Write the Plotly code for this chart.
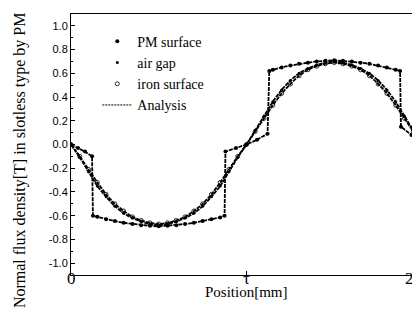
import plotly.graph_objects as go

# Positions in units of tau
pos_smooth = [0.00, 0.05, 0.10, 0.15, 0.20, 0.25, 0.30, 0.35, 0.40, 0.45, 0.50,
              0.55, 0.60, 0.65, 0.70, 0.75, 0.80, 0.85, 0.90, 0.95, 1.00,
              1.05, 1.10, 1.15, 1.20, 1.25, 1.30, 1.35, 1.40, 1.45, 1.50,
              1.55, 1.60, 1.65, 1.70, 1.75, 1.80, 1.85, 1.90, 1.95, 2.00]
air_gap = [0.00, -0.11, -0.23, -0.35, -0.44, -0.52, -0.58, -0.62, -0.65, -0.67, -0.68,
           -0.67, -0.65, -0.62, -0.58, -0.52, -0.44, -0.35, -0.23, -0.11, 0.00,
           0.12, 0.24, 0.36, 0.46, 0.54, 0.60, 0.64, 0.67, 0.69, 0.70,
           0.69, 0.67, 0.64, 0.60, 0.54, 0.46, 0.36, 0.24, 0.12, 0.00]
iron_surface = [0.00, -0.10, -0.21, -0.32, -0.42, -0.50, -0.56, -0.61, -0.64, -0.66, -0.67,
                -0.66, -0.64, -0.61, -0.56, -0.50, -0.42, -0.32, -0.21, -0.10, 0.00,
                0.11, 0.22, 0.33, 0.43, 0.51, 0.58, 0.63, 0.66, 0.68, 0.69,
                0.68, 0.66, 0.63, 0.58, 0.51, 0.43, 0.33, 0.22, 0.11, 0.00]

pos_pm = [0.00, 0.04, 0.08, 0.12, 0.125, 0.15, 0.20, 0.25, 0.30, 0.35, 0.40, 0.45, 0.50,
          0.55, 0.60, 0.65, 0.70, 0.75, 0.80, 0.85, 0.875, 0.88, 0.94, 1.00,
          1.06, 1.12, 1.13, 1.15, 1.20, 1.25, 1.30, 1.35, 1.40, 1.45, 1.50,
          1.55, 1.60, 1.65, 1.70, 1.75, 1.80, 1.85, 1.875, 1.88, 1.94, 2.00]
pm_surface = [0.00, -0.03, -0.06, -0.10, -0.60, -0.61, -0.63, -0.645, -0.66, -0.67, -0.68, -0.685, -0.69,
              -0.685, -0.68, -0.67, -0.66, -0.645, -0.63, -0.615, -0.60, -0.06, -0.03, 0.00,
              0.04, 0.09, 0.62, 0.63, 0.65, 0.665, 0.68, 0.69, 0.70, 0.705, 0.71,
              0.705, 0.70, 0.69, 0.68, 0.665, 0.65, 0.63, 0.62, 0.15, 0.08, 0.02]

x_tickvals = [0, 1, 2]
x_ticktext = ["0", "τ", "2τ"]
x_label_pos = [0, 1, 1.95]
y_tickvals = [1.0, 0.8, 0.6, 0.4, 0.2, 0.0, -0.2, -0.4, -0.6, -0.8, -1.0]
y_ticktext = ["1.0", "0.8", "0.6", "0.4", "0.2", "0.0", "-0.2", "-0.4", "-0.6", "-0.8", "-1.0"]

serif = "Liberation Serif, Times New Roman, serif"
fig = go.Figure()

dash_style = "4px,1px"
for xs, ys in [(pos_pm, pm_surface), (pos_smooth, air_gap), (pos_smooth, iron_surface)]:
    fig.add_trace(go.Scatter(x=xs, y=ys, mode="lines", showlegend=False,
                             line=dict(color="black", width=1.8, dash=dash_style,
                                       shape="spline" if xs is pos_smooth else "linear",
                                       smoothing=0.6),
                             hoverinfo="skip"))

fig.add_trace(go.Scatter(x=pos_pm, y=pm_surface, mode="markers", name="PM surface",
                         marker=dict(symbol="circle", size=4, color="black")))
fig.add_trace(go.Scatter(x=pos_smooth, y=air_gap, mode="markers", name="air gap",
                         marker=dict(symbol="circle", size=3, color="black")))
fig.add_trace(go.Scatter(x=pos_smooth, y=iron_surface, mode="markers", name="iron surface",
                         marker=dict(symbol="circle-open", size=4, color="black",
                                     line=dict(width=0.8))))
fig.add_trace(go.Scatter(x=[None], y=[None], mode="lines", name="Analysis",
                         line=dict(color="black", width=1, dash="2px,1px")))

for xv, txt in zip(x_label_pos, x_ticktext):
    fig.add_annotation(x=xv, y=0, xref="x", yref="paper", text=txt, showarrow=False,
                       xanchor="center", yanchor="top", yshift=8,
                       font=dict(family=serif, size=17, color="black"))
fig.add_annotation(x=0.5, y=0, xref="paper", yref="paper", text="Position[mm]",
                   showarrow=False, xanchor="center", yanchor="top", yshift=-7,
                   font=dict(family=serif, size=15, color="black"))
fig.add_annotation(x=-0.145, y=0.4406, xref="paper", yref="paper",
                   text="Normal flux density[T] in slotless type by PM",
                   showarrow=False, textangle=-90, xanchor="center", yanchor="middle",
                   font=dict(family=serif, size=16, color="black"))

fig.update_layout(
    width=420, height=311,
    margin=dict(l=63, r=6, t=6, b=44),
    paper_bgcolor="white", plot_bgcolor="white",
    font=dict(family=serif, size=13, color="black"),
    showlegend=True,
    legend=dict(x=0.075, y=0.955, xanchor="left", yanchor="top",
                bgcolor="rgba(0,0,0,0)", font=dict(family=serif, size=14),
                itemwidth=30, tracegroupgap=0),
)
fig.update_xaxes(range=[0, 2], tickvals=x_tickvals, ticktext=["", "", ""],
                 ticks="inside", ticklen=4, tickcolor="black",
                 showline=True, linecolor="black", linewidth=1, mirror=True,
                 showgrid=False, zeroline=False)
fig.update_yaxes(range=[-1.1, 1.1], tickvals=y_tickvals, ticktext=y_ticktext,
                 ticks="inside", ticklen=4, tickcolor="black",
                 minor=dict(ticks="inside", ticklen=2, dtick=0.1, tickcolor="black"),
                 showline=True, linecolor="black", linewidth=1, mirror=True,
                 showgrid=False, zeroline=False,
                 tickfont=dict(family="Liberation Sans", size=11))

fig.write_html("out.html")
